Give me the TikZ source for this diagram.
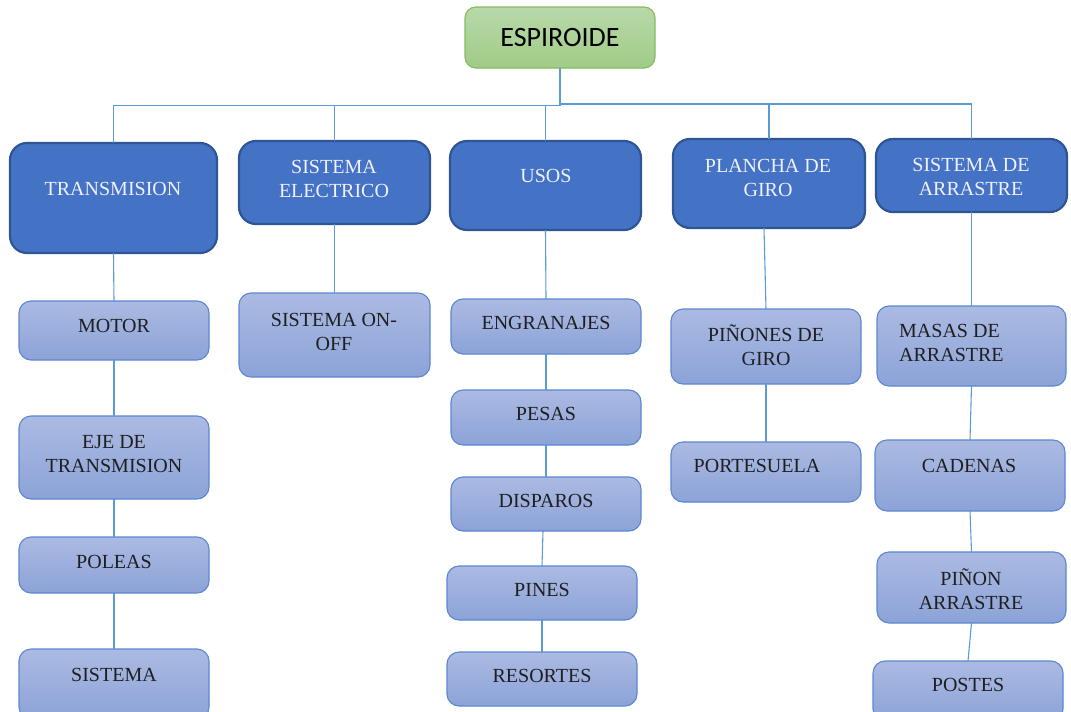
\documentclass[tikz,border=0pt]{standalone}
\usepackage{fontspec}
\setmainfont{Liberation Serif}
\newfontfamily\rootfont{Carlito}
\definecolor{linkblue}{HTML}{5B9BD5}
\definecolor{mainfill}{HTML}{4472C4}
\definecolor{maindraw}{HTML}{2F5597}
\definecolor{leaftop}{HTML}{ABBAE2}
\definecolor{leafbot}{HTML}{8CA3D8}
\definecolor{leafdraw}{HTML}{5B87D0}
\definecolor{roottop}{HTML}{B8D9AA}
\definecolor{rootbot}{HTML}{A1CB87}
\definecolor{rootdraw}{HTML}{86BC63}
\begin{document}
\begin{tikzpicture}[x=1pt,y=-1pt,
  conn/.style={draw=linkblue,line width=1.1pt},
  rootbox/.style={anchor=north west,rounded corners=11pt,top color=roottop,bottom color=rootbot,draw=rootdraw,line width=1.2pt,inner sep=0pt,outer sep=0pt},
  mainbox/.style={anchor=north west,rounded corners=17pt,fill=mainfill,draw=maindraw,line width=2.2pt,inner sep=0pt,outer sep=0pt},
  leafbox/.style={anchor=north west,rounded corners=12pt,top color=leaftop,bottom color=leafbot,draw=leafdraw,line width=1.1pt,inner sep=0pt,outer sep=0pt},
  roottext/.style={font=\rootfont\fontsize{28}{32}\selectfont,text=black,inner sep=0pt},
  maintext/.style={font=\fontsize{20}{24}\selectfont,text=white!94!blue,align=center,inner sep=0pt},
  leaftext/.style={font=\fontsize{20}{24}\selectfont,text=black!88,align=center,inner sep=0pt},
]
\useasboundingbox (0,0) rectangle (1071,712);
\clip (0,0) rectangle (1071,712);

% root
\node[rootbox,minimum width=190pt,minimum height=61pt] (root) at (465,7) {};
\node[roottext] (rootT) at (560,38) {ESPIROIDE};

% second level
\node[mainbox,minimum width=207pt,minimum height=110pt] (trans) at (10,143) {};
\node[mainbox,minimum width=191pt,minimum height=83pt] (elec) at (239,141) {};
\node[mainbox,minimum width=191pt,minimum height=89pt] (usos) at (450,141) {};
\node[mainbox,minimum width=192pt,minimum height=89pt] (plan) at (673,139) {};
\node[mainbox,minimum width=191pt,minimum height=73pt] (arr) at (876,139) {};

\node[maintext] (transT) at (113,189) {TRANSMISION};
\node[maintext] (elecT) at (334,179) {SISTEMA\\ELECTRICO};
\node[maintext] (usosT) at (546,176) {USOS};
\node[maintext] (planT) at (768,178) {PLANCHA DE\\GIRO};
\node[maintext] (arrT) at (971,177) {SISTEMA DE\\ARRASTRE};

% bus lines from the root
\coordinate (busL) at (560,105.5);
\coordinate (busR) at (560,104);
\draw[conn] (root.south) -- (busL) -| (trans.north);
\draw[conn] (busL) -| (elec.north);
\draw[conn] (busL) -| (usos.north);
\draw[conn] (root.south) -- (busR) -| (plan.north);
\draw[conn] (busR) -| (arr.north);

% column: transmision
\node[leafbox,minimum width=190pt,minimum height=59pt] (motor) at (19,301) {};
\node[leafbox,minimum width=190pt,minimum height=83pt] (eje) at (19,416) {};
\node[leafbox,minimum width=190pt,minimum height=56pt] (poleas) at (19,537) {};
\node[leafbox,minimum width=190pt,minimum height=70pt] (sist) at (19,649) {};
\node[leaftext] (motorT) at (114,326) {MOTOR};
\node[leaftext] (ejeT) at (114,454) {EJE DE\\TRANSMISION};
\node[leaftext] (poleasT) at (114,562) {POLEAS};
\node[leaftext] (sistT) at (114,675) {SISTEMA};
\draw[conn] (trans.south) -- (motor.north);
\draw[conn] (motor.south) -- (eje.north);
\draw[conn] (eje.south) -- (poleas.north);
\draw[conn] (poleas.south) -- (sist.north);

% column: sistema electrico
\node[leafbox,minimum width=191pt,minimum height=84pt] (onoff) at (239,293) {};
\node[leaftext] (onoffT) at (334,332) {SISTEMA ON-\\OFF};
\draw[conn] (elec.south) -- (onoff.north);

% column: usos
\node[leafbox,minimum width=190pt,minimum height=55pt] (engr) at (451,299) {};
\node[leafbox,minimum width=190pt,minimum height=55pt] (pesas) at (451,390) {};
\node[leafbox,minimum width=190pt,minimum height=54pt] (disp) at (451,477) {};
\node[leafbox,minimum width=190pt,minimum height=54pt] (pines) at (447,566) {};
\node[leafbox,minimum width=190pt,minimum height=54pt] (resor) at (447,652) {};
\node[leaftext] (engrT) at (546,323) {ENGRANAJES};
\node[leaftext] (pesasT) at (546,414) {PESAS};
\node[leaftext] (dispT) at (546,501) {DISPAROS};
\node[leaftext] (pinesT) at (542,590) {PINES};
\node[leaftext] (resorT) at (542,676) {RESORTES};
\draw[conn] (usos.south) -- (engr.north);
\draw[conn] (engr.south) -- (pesas.north);
\draw[conn] (pesas.south) -- (disp.north);
\draw[conn] ([xshift=1pt]pines.north |- disp.south) -- (pines.north);
\draw[conn] (pines.south) -- (resor.north);

% column: plancha de giro
\node[leafbox,minimum width=190pt,minimum height=75pt] (pinon) at (671,309) {};
\node[leafbox,minimum width=190pt,minimum height=60pt] (port) at (671,442) {};
\node[leaftext] (pinonT) at (766,345) {PIÑONES DE\\GIRO};
\node[leaftext] (portT) at (757,466) {PORTESUELA};
\draw[conn] ([xshift=-2pt]pinon.north |- plan.south) -- (pinon.north);
\draw[conn] (pinon.south) -- (port.north);

% column: sistema de arrastre
\node[leafbox,minimum width=189pt,minimum height=80pt] (masas) at (877,306) {};
\node[leafbox,minimum width=190pt,minimum height=71pt] (caden) at (875,440) {};
\node[leafbox,minimum width=189pt,minimum height=71pt] (parr) at (877,552) {};
\node[leafbox,minimum width=190pt,minimum height=60pt] (postes) at (873,661) {};
\node[leaftext,anchor=west,align=left] (masasT) at (899,343) {MASAS DE\\ARRASTRE};
\node[leaftext] (cadenT) at (969,466) {CADENAS};
\node[leaftext] (parrT) at (971,589) {PIÑON\\ARRASTRE};
\node[leaftext] (postesT) at (968,685) {POSTES};
\draw[conn] (arr.south) -- (masas.north);
\draw[conn] (masas.south) -- (caden.north);
\draw[conn] (caden.south) -- (parr.north);
\draw[conn] (parr.south) -- (postes.north);
\end{tikzpicture}
\end{document}
